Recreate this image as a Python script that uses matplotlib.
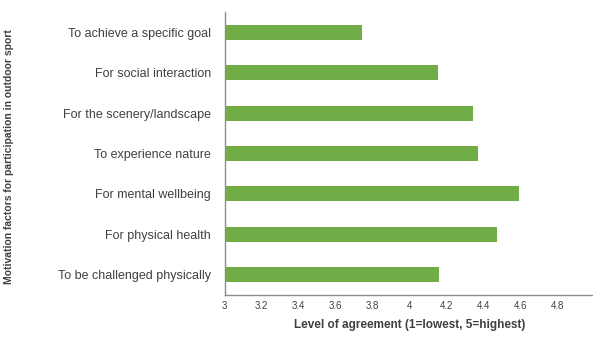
import matplotlib.pyplot as plt

# motivation factors, listed bottom to top as drawn
factors = [
    "To be challenged physically",
    "For physical health",
    "For mental wellbeing",
    "To experience nature",
    "For the scenery/landscape",
    "For social interaction",
    "To achieve a specific goal",
]
agreement = [4.16, 4.47, 4.59, 4.37, 4.34, 4.15, 3.74]

x_ticks = [3, 3.2, 3.4, 3.6, 3.8, 4, 4.2, 4.4, 4.6, 4.8]
x_tick_labels = ["3", "3.2", "3.4", "3.6", "3.8", "4", "4.2", "4.4", "4.6", "4.8"]

plt.rcParams['font.family'] = ['Liberation Sans', 'DejaVu Sans']

fig = plt.figure(figsize=(5.93, 3.37), dpi=100)
ax = fig.add_axes([0.379, 0.1246, 0.624, 0.84])

ax.barh(range(len(factors)), agreement, height=0.37, color="#70AD47")
ax.set_xlim(3, 5)
ax.set_ylim(-0.5, len(factors) - 0.5)

ax.set_yticks(range(len(factors)))
ax.set_yticklabels(factors, fontsize=9, color="#404040")
ax.set_xticks(x_ticks)
ax.set_xticklabels(x_tick_labels, fontsize=7, color="#404040")
ax.tick_params(axis="x", length=0, pad=4)
ax.tick_params(axis="y", length=0, pad=10)

for side in ["top", "right"]:
    ax.spines[side].set_visible(False)
for side in ["left", "bottom"]:
    ax.spines[side].set_color("#8c8c8c")
    ax.spines[side].set_linewidth(1.0)

ax.set_xlabel("Level of agreement (1=lowest, 5=highest)", fontsize=8.5,
              fontweight="bold", color="#404040", labelpad=6)
fig.text(0.016, 0.535, "Motivation factors for participation in outdoor sport",
         rotation=90, fontsize=7.5, fontweight="bold", color="#404040",
         ha="center", va="center")

fig.savefig("out.png", dpi=100)
